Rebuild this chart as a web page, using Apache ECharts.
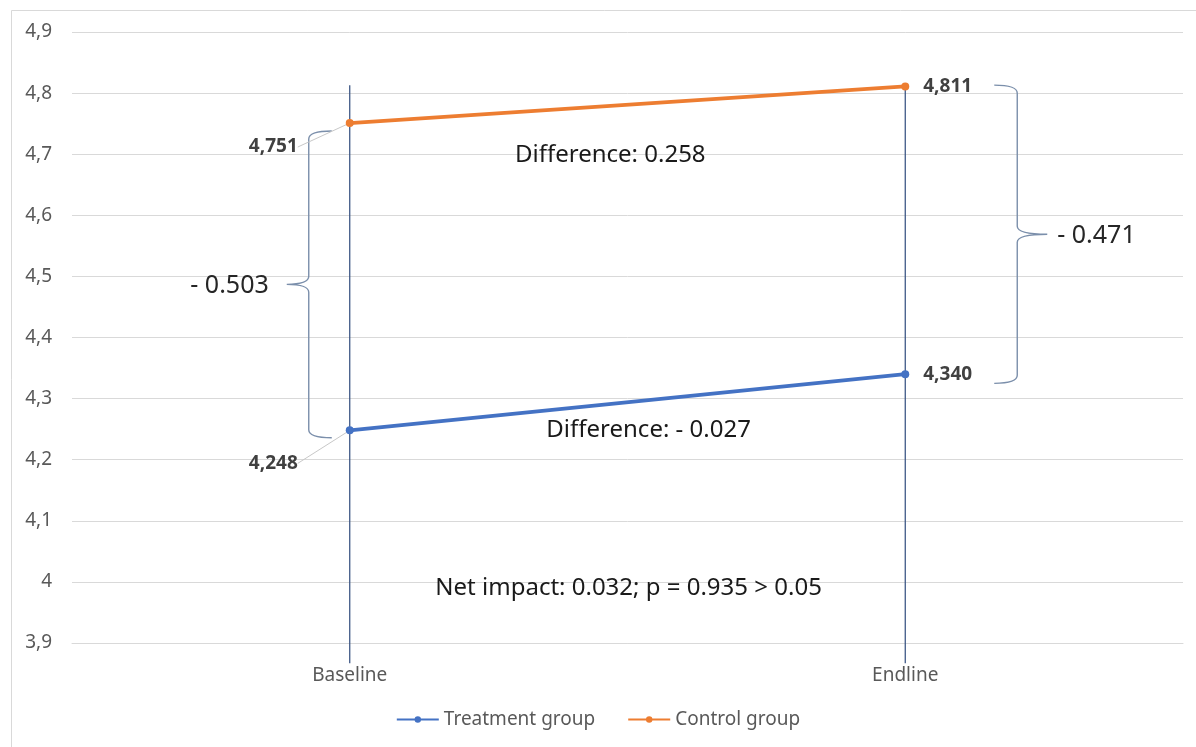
<!DOCTYPE html>
<html>
<head>
<meta charset="utf-8">
<script src="https://cdn.jsdelivr.net/npm/echarts@6/dist/echarts.min.js"></script>
<style>
  html, body { margin: 0; padding: 0; background: #ffffff; }
  #chart { width: 1196px; height: 747px; }
</style>
</head>
<body>
<div id="chart"></div>
<script>
// Survey scores by group, baseline vs endline
const categories = ['Baseline', 'Endline'];
const treatment = [4.248, 4.340];
const control = [4.751, 4.811];

// Vertical guide lines through each round (top / bottom values)
const guideTop = [4.813, 4.813];
const guideBottom = [3.867, 3.867];

// Gap brackets between the groups at each round
const braceCats = [0, 1];
const braceTop = [4.738, 4.813];
const braceBottom = [4.236, 4.325];
const braceLabels = ['- 0.503', '- 0.471'];

// Free text notes: position along Baseline→Endline (0..1) and y value
const noteTexts = ['Difference: 0.258', 'Difference: - 0.027', 'Net impact: 0.032; p = 0.935 > 0.05'];
const notePos = [0.469, 0.538, 0.502];
const noteY = [4.699, 4.249, 3.99];

const FONT = '"Noto Sans", "Open Sans", sans-serif';
const fmt = v => v.toFixed(3).replace('.', ',');

const chart = echarts.init(document.getElementById('chart'), null, { renderer: 'canvas' });

function pointData(values) {
  return values.map((v, i) => {
    if (i === 0) {
      return {
        value: v,
        label: { position: 'left', distance: 6 },
        labelLine: { show: true, lineStyle: { color: '#c8c8c8', width: 1 } }
      };
    }
    return { value: v, label: { position: 'right', distance: 14 } };
  });
}

const option = {
  animation: false,
  backgroundColor: '#ffffff',
  textStyle: { fontFamily: FONT },
  grid: { left: 72, right: 13, top: 32, bottom: 104, containLabel: false },
  legend: {
    bottom: 13,
    left: 'center',
    itemWidth: 42,
    itemHeight: 8,
    itemGap: 32,
    data: ['Treatment group', 'Control group'],
    textStyle: { color: '#595959', fontSize: 19, fontFamily: FONT }
  },
  xAxis: {
    type: 'category',
    data: categories,
    boundaryGap: true,
    axisLine: { show: true, lineStyle: { color: '#d9d9d9' } },
    axisTick: { show: false },
    axisLabel: { color: '#595959', fontSize: 19, margin: 23, fontFamily: FONT },
    splitLine: { show: false }
  },
  yAxis: {
    type: 'value',
    min: 3.9,
    max: 4.9,
    interval: 0.1,
    axisLine: { show: false },
    axisTick: { show: false },
    axisLabel: {
      color: '#595959', fontSize: 19, margin: 20, fontFamily: FONT,
      formatter: v => String(Math.round(v * 10) / 10).replace('.', ',')
    },
    splitLine: { lineStyle: { color: '#d9d9d9', width: 1 } }
  },
  graphic: [{
    type: 'rect',
    left: 9, top: 8,
    shape: { width: 1300, height: 800 },
    style: { fill: 'none', stroke: '#d9d9d9', lineWidth: 1 },
    silent: true,
    z: -1
  }],
  series: [
    {
      // vertical guide lines at each round
      type: 'custom',
      name: 'guides',
      clip: false,
      z: 1,
      silent: true,
      data: categories.map((c, i) => [i, guideTop[i], guideBottom[i]]),
      renderItem: (params, api) => {
        const p1 = api.coord([api.value(0), api.value(1)]);
        const p2 = api.coord([api.value(0), api.value(2)]);
        return {
          type: 'line',
          shape: { x1: p1[0], y1: p1[1], x2: p2[0], y2: p2[1] },
          style: { stroke: '#2f4b7c', lineWidth: 1.2 }
        };
      }
    },
    {
      name: 'Treatment group',
      type: 'line',
      data: pointData(treatment),
      z: 3,
      color: '#4472c4',
      lineStyle: { width: 3.8, color: '#4472c4' },
      symbol: 'circle',
      symbolSize: 8,
      itemStyle: { color: '#4472c4' },
      label: {
        show: true, formatter: p => fmt(p.value), fontSize: 19, fontWeight: 'bold',
        color: '#404040', fontFamily: FONT
      },
      labelLayout: params => params.dataIndex === 0 ? { dx: -42, dy: 33 } : {}
    },
    {
      name: 'Control group',
      type: 'line',
      data: pointData(control),
      z: 3,
      color: '#ed7d31',
      lineStyle: { width: 3.8, color: '#ed7d31' },
      symbol: 'circle',
      symbolSize: 8,
      itemStyle: { color: '#ed7d31' },
      label: {
        show: true, formatter: p => fmt(p.value), fontSize: 19, fontWeight: 'bold',
        color: '#404040', fontFamily: FONT
      },
      labelLayout: params => params.dataIndex === 0 ? { dx: -42, dy: 24 } : {}
    },
    {
      // curly brackets showing the gap between the groups
      type: 'custom',
      name: 'gaps',
      clip: false,
      z: 2,
      silent: true,
      data: braceCats.map((c, i) => [c, braceTop[i], braceBottom[i], i]),
      renderItem: (params, api) => {
        const idx = api.value(3);
        const left = idx === 0;
        const dir = left ? -1 : 1;           // side the tip points to
        const base = api.coord([api.value(0), api.value(1)]);
        const bot = api.coord([api.value(0), api.value(2)]);
        const xv = base[0] + (left ? -41 : 112);
        const yT = base[1], yB = bot[1], yM = (yT + yB) / 2;
        const hook = 23, r = 8, tip = left ? 22 : 30;
        const d = [
          'M', xv - dir * hook, yT,
          'Q', xv, yT, xv, yT + r,
          'L', xv, yM - r,
          'Q', xv, yM, xv + dir * tip, yM,
          'M', xv + dir * tip, yM,
          'Q', xv, yM, xv, yM + r,
          'L', xv, yB - r,
          'Q', xv, yB, xv - dir * hook, yB
        ].join(' ');
        return {
          type: 'group',
          children: [
            {
              type: 'path',
              shape: { pathData: d },
              style: { stroke: '#7b8fab', lineWidth: 1.4, fill: 'none' }
            },
            {
              type: 'text',
              x: left ? xv - tip - 18 : xv + tip + 10,
              y: yM + 2,
              style: {
                text: braceLabels[idx],
                fontSize: 25, fontFamily: FONT, fill: '#262626',
                align: left ? 'right' : 'left', verticalAlign: 'middle'
              }
            }
          ]
        };
      }
    },
    {
      // text notes between the rounds
      type: 'custom',
      name: 'notes',
      clip: false,
      z: 4,
      silent: true,
      data: noteTexts.map((t, i) => [0, noteY[i], i]),
      renderItem: (params, api) => {
        const idx = api.value(2);
        const a = api.coord([0, api.value(1)]);
        const b = api.coord([1, api.value(1)]);
        const x = a[0] + (b[0] - a[0]) * notePos[idx];
        return {
          type: 'text',
          x: x, y: a[1],
          style: {
            text: noteTexts[idx],
            fontSize: 24, fontFamily: FONT, fill: '#1a1a1a',
            align: 'center', verticalAlign: 'middle'
          }
        };
      }
    }
  ]
};

chart.setOption(option);
</script>
</body>
</html>
